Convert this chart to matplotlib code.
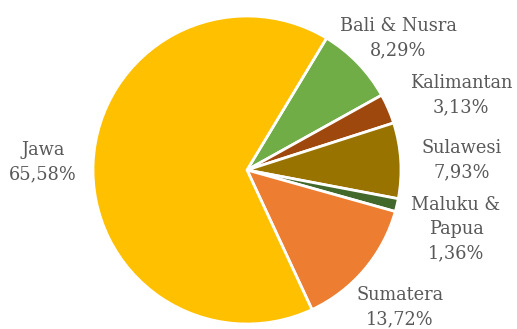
import matplotlib
matplotlib.use("Agg")
import matplotlib.pyplot as plt

categories = ["Bali & Nusra", "Kalimantan", "Sulawesi", "Maluku &\nPapua", "Sumatera", "Jawa"]
values = [8.29, 3.13, 7.93, 1.36, 13.72, 65.58]
colors = ["#70AD47", "#9E480E", "#997300", "#43682B", "#ED7D31", "#FFC000"]
# label block centres in pixel coords (x from left, y from top)
label_pos = [(398, 38), (461, 95), (462, 160), (456, 229), (400, 307), (43, 162)]

W, H = 517, 329
fig = plt.figure(figsize=(W / 100, H / 100), dpi=100)
ax = fig.add_axes([0, 0, 1, 1])

ax.pie(values, colors=colors, startangle=58.9, counterclock=False,
       center=(247, H - 170), radius=154,
       wedgeprops=dict(edgecolor="white", linewidth=2))

ax.set_xlim(0, W)
ax.set_ylim(0, H)
ax.set_aspect("equal")
ax.axis("off")

for cat, v, (x, y) in zip(categories, values, label_pos):
    txt = f"{cat}\n{v:.2f}%".replace(".", ",")
    ax.text(x, H - y, txt, ha="center", va="center", color="#595959",
            fontsize=12.8, family="DejaVu Serif", linespacing=1.42)

fig.savefig("out.png", dpi=100)
